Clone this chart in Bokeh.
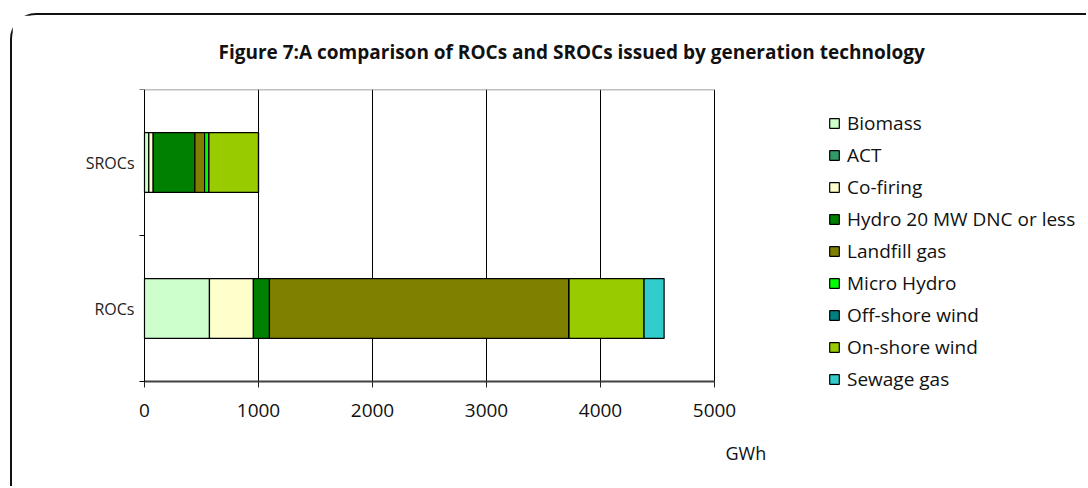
from bokeh.plotting import figure
from bokeh.models import ColumnDataSource, Range1d, FixedTicker, Title, Label
from bokeh.embed import file_html
from bokeh.resources import INLINE

# Certificate types (bottom to top) and generation technologies
certificates = ["ROCs", "SROCs"]
technologies = [
    "Biomass", "ACT", "Co-firing", "Hydro 20 MW DNC or less", "Landfill gas",
    "Micro Hydro", "Off-shore wind", "On-shore wind", "Sewage gas",
]
tech_colors = [
    "#CCFFCC", "#339966", "#FFFFCC", "#008000", "#808000",
    "#00FF00", "#008080", "#99CC00", "#33CCCC",
]

# GWh issued, per certificate type: [ROCs, SROCs]
biomass = [570, 38]
act = [0, 0]
co_firing = [385, 38]
hydro_20mw = [141, 366]
landfill_gas = [2628, 85]
micro_hydro = [0, 38]
offshore_wind = [0, 0]
onshore_wind = [658, 435]
sewage_gas = [176, 0]

x_ticks = [0, 1000, 2000, 3000, 4000, 5000]

FONT = "Open Sans"
INK = "#111111"

# plot-area geometry: 0-5000 GWh over 570 px, each certificate band 146 px.
# The frame fills the whole canvas below the title, so the axis texts and
# the legend around the bars all stay inside it; both axes are pinned at 0.
PX_PER_GWH = 570 / x_ticks[-1]
PX_PER_BAND = 146
FRAME_W, FRAME_H = 1076, 399
LEFT_PAD = 132          # px between the frame's left edge and 0 GWh
n = len(certificates)

series = [biomass, act, co_firing, hydro_20mw, landfill_gas,
          micro_hydro, offshore_wind, onshore_wind, sewage_gas]
data = {name: vals for name, vals in zip(technologies, series)}
# each certificate sits in the middle of its unit band
data["y"] = [i + 0.5 for i in range(n)]
source = ColumnDataSource(data)

x_start = -LEFT_PAD / PX_PER_GWH
p = figure(
    width=1076, height=473,
    x_range=Range1d(x_start, x_start + FRAME_W / PX_PER_GWH),
    y_range=Range1d(n - FRAME_H / PX_PER_BAND, n),
    output_backend="svg", toolbar_location=None,
    min_border_left=0, min_border_right=0,
    min_border_top=74, min_border_bottom=0,
    background_fill_color="white", border_fill_color="white",
    outline_line_color=None,
)
p.margin = (13, 0, 0, 10)
p.styles = {
    "border-top": "2px solid #111111",
    "border-left": "2px solid #111111",
    "border-top-left-radius": "26px",
}

# vertical gridlines (the last one closes the plot area on the right)
grid_x = x_ticks[1:]
p.segment(x0=grid_x, x1=grid_x, y0=[0] * len(grid_x), y1=[n] * len(grid_x),
          line_color="black", line_width=1)
# top edge of the plot area
p.segment(x0=x_ticks[0], x1=x_ticks[-1], y0=n, y1=n,
          line_color="#808080", line_width=1.5)

p.hbar_stack(
    technologies, y="y", height=0.41, source=source,
    fill_color=tech_colors, line_color="black", line_width=1.2,
    legend_label=technologies,
)

# x axis, pinned at 0
p.xaxis.fixed_location = 0
p.xaxis.ticker = FixedTicker(ticks=x_ticks)
p.xaxis.bounds = (x_ticks[0], x_ticks[-1])
p.xaxis.axis_line_color = "#404040"
p.xaxis.axis_line_width = 2
p.xaxis.major_tick_line_color = "#222222"
p.xaxis.major_tick_out = 6
p.xaxis.major_tick_in = 0
p.xaxis.minor_tick_line_color = None
p.xaxis.major_label_standoff = 16
p.xaxis.major_label_text_font = FONT
p.xaxis.major_label_text_font_size = "19px"
p.xaxis.major_label_text_color = INK

# y axis, pinned at 0 GWh: labels at band centres, tick marks at band edges
p.yaxis.fixed_location = 0
p.yaxis.ticker = FixedTicker(
    ticks=[i + 0.5 for i in range(n)],
    minor_ticks=list(range(n + 1)),
)
p.yaxis.bounds = (0, n)
p.yaxis.major_label_overrides = {i + 0.5: c for i, c in enumerate(certificates)}
p.yaxis.axis_line_color = "black"
p.yaxis.major_tick_out = 0
p.yaxis.major_tick_in = 0
p.yaxis.minor_tick_out = 5
p.yaxis.minor_tick_in = 0
p.yaxis.minor_tick_line_color = "black"
p.yaxis.major_label_standoff = 5
p.yaxis.major_label_text_font = FONT
p.yaxis.major_label_text_font_size = "16px"
p.yaxis.major_label_text_color = "#222222"

p.xgrid.grid_line_color = None
p.ygrid.grid_line_color = None

legend = p.legend[0]
legend.location = (816, 96)
legend.margin = 0
legend.padding = 0
legend.border_line_color = None
legend.background_fill_alpha = 0
legend.glyph_width = 12
legend.glyph_height = 12
legend.label_height = 26
legend.spacing = 6
legend.label_standoff = 7
legend.label_text_font = FONT
legend.label_text_font_size = "19px"
legend.label_text_color = INK

title = Title(
    text="Figure 7:A comparison of ROCs and SROCs issued by generation technology",
    align="left", offset=206, standoff=45, vertical_align="top",
    text_font=FONT, text_font_style="bold", text_font_size="19px",
    text_color=INK,
)
p.add_layout(title, "above")

unit = Label(
    x=5096, y=-0.49, text="GWh",
    text_align="left", text_baseline="middle",
    text_font=FONT, text_font_size="18px", text_color=INK,
)
p.add_layout(unit)

open("out.html", "w").write(file_html(p, INLINE))
